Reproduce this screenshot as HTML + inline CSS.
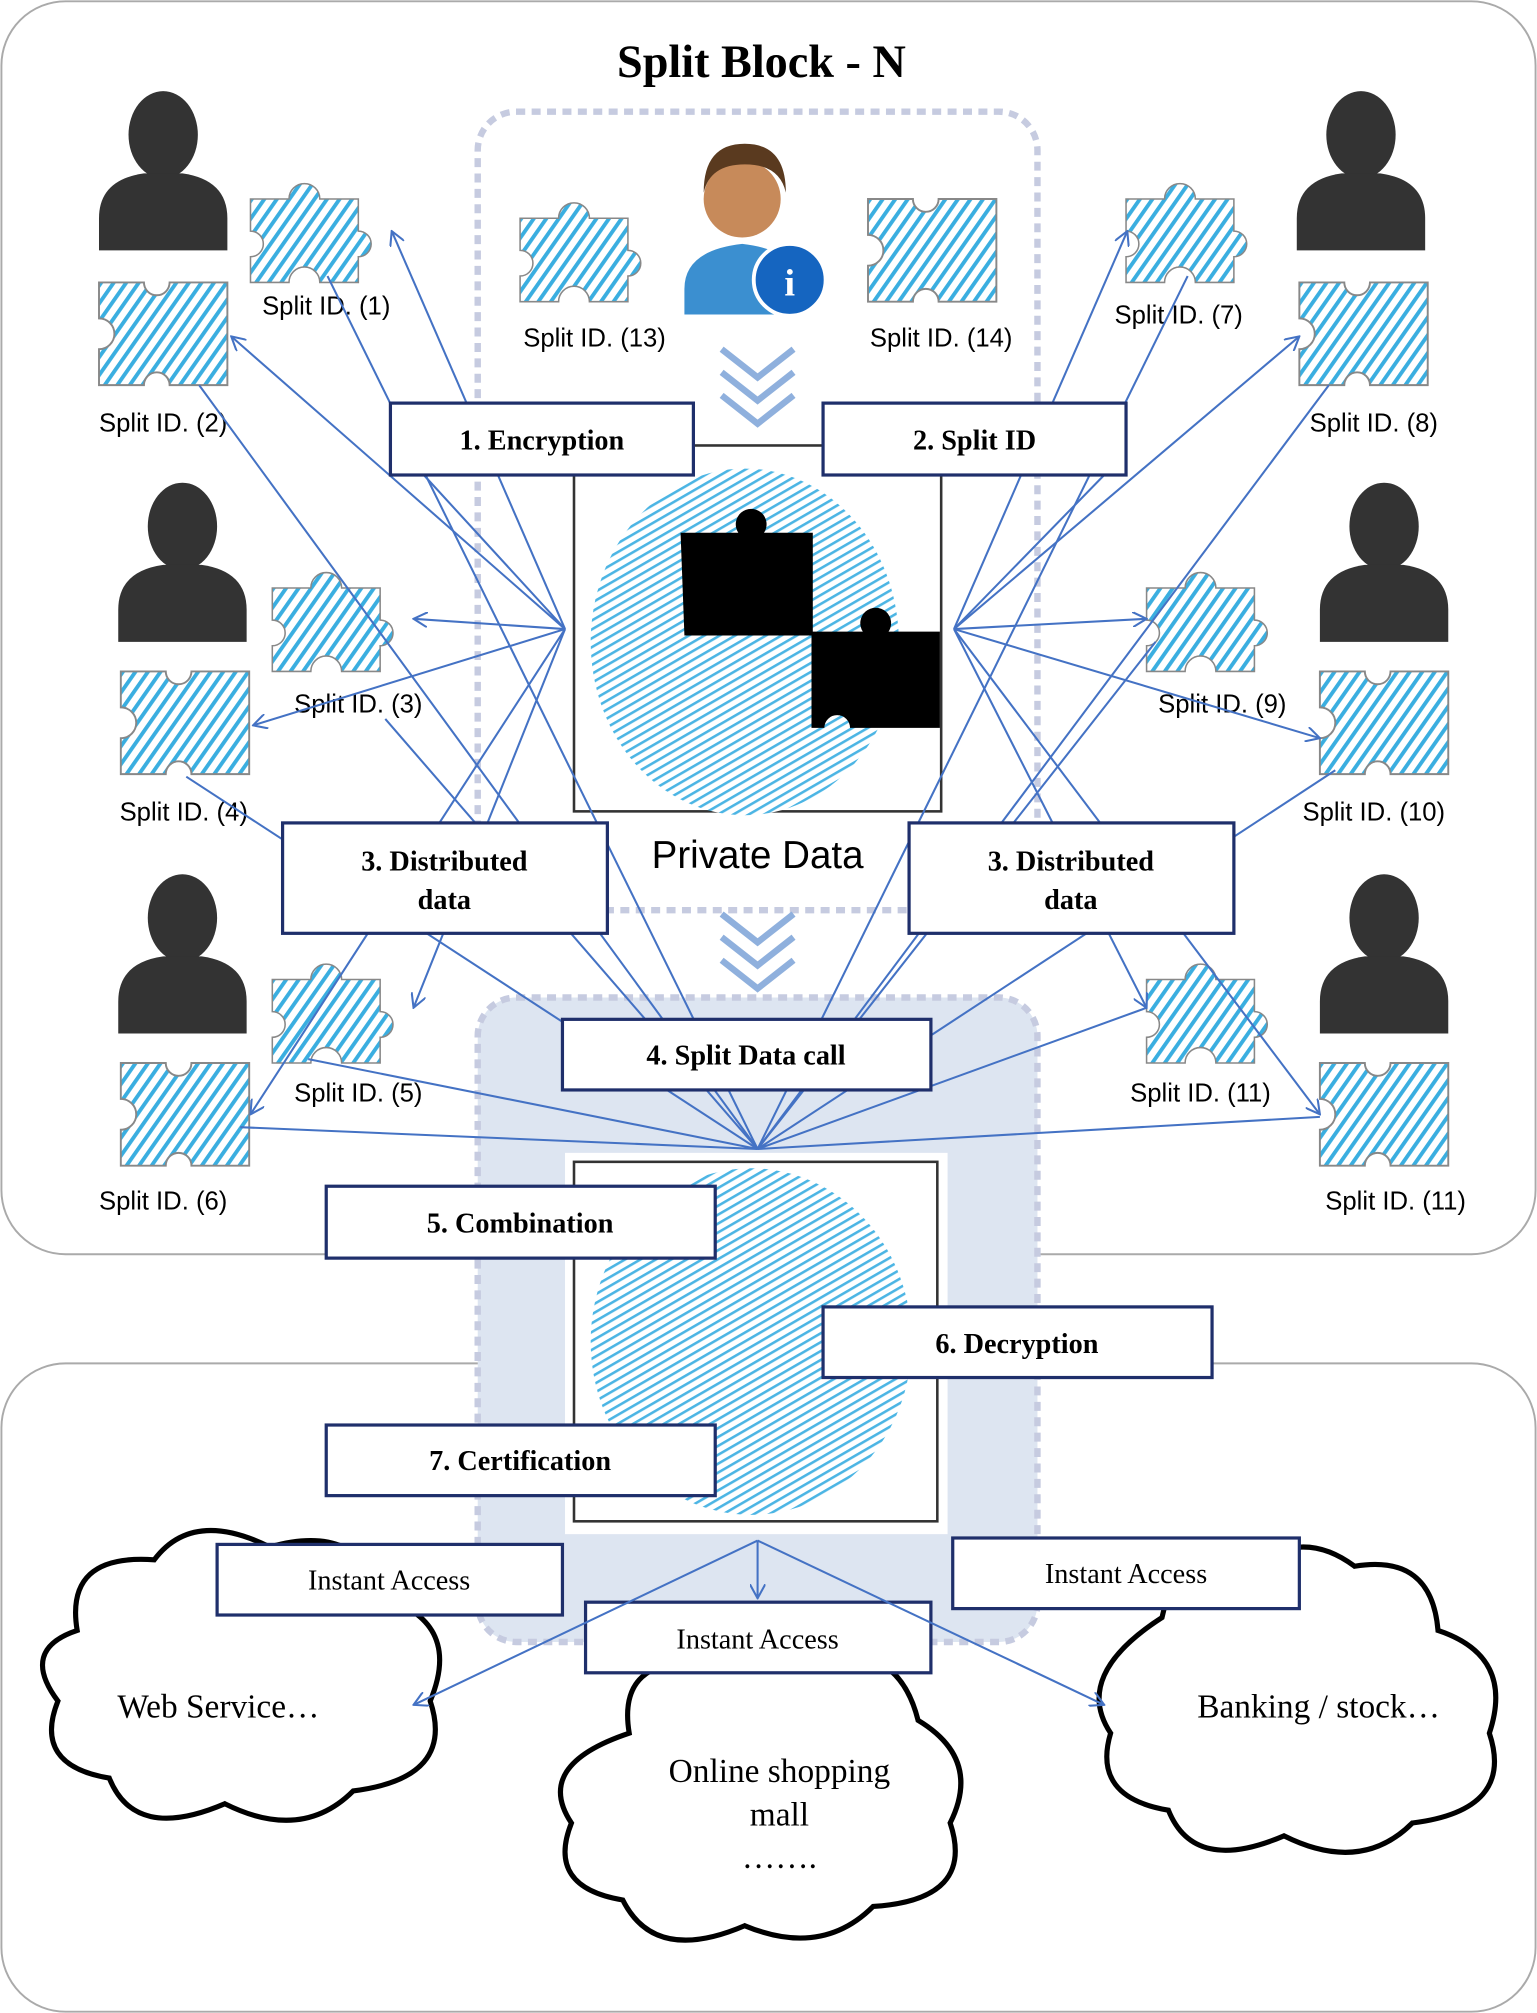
<!DOCTYPE html>
<html><head><meta charset="utf-8"><style>
html,body{margin:0;padding:0;background:#fff}
svg{display:block}
.lb{font-family:"Liberation Serif",serif;font-weight:bold;font-size:22px;fill:#000}
.ia{font-family:"Liberation Serif",serif;font-size:22px;fill:#000}
.sid{font-family:"Liberation Sans","DejaVu Sans",sans-serif;font-size:20px;fill:#000}
.box{fill:#fff;stroke:#1f2f6b;stroke-width:2.5}
.ln{stroke:#4472c4;stroke-width:1.6;fill:none}
</style></head><body>
<svg width="1537" height="2013" viewBox="0 0 1197 1568" xmlns="http://www.w3.org/2000/svg">
<defs>
<pattern id="fp" width="8" height="8" patternUnits="userSpaceOnUse" patternTransform="rotate(35)">
<rect width="8" height="8" fill="#fff"/><rect width="3" height="8" fill="#3aaee0"/></pattern>
<pattern id="fp2" width="6" height="6" patternUnits="userSpaceOnUse" patternTransform="rotate(60)">
<rect width="6" height="6" fill="#fff"/><rect width="2" height="6" fill="#4cb5e4"/></pattern>
<marker id="ar" markerWidth="12" markerHeight="12" refX="11" refY="6" orient="auto" markerUnits="userSpaceOnUse">
<path d="M0,0 L11,6 L0,12" fill="none" stroke="#4472c4" stroke-width="1.6"/></marker>
<g id="pz1"><path d="M0,15 h30 a12,12 0 1 1 24,0 h30 v25 a10,10 0 1 1 0,20 v20 h-30 a12,12 0 1 0 -24,0 h-30 v-20 a10,10 0 1 0 0,-20 z" fill="url(#fp)" stroke="#888" stroke-width="1.2"/></g>
<g id="pz2"><path d="M0,0 h35 a10,10 0 1 0 20,0 h45 v80 h-45 a10,10 0 1 0 -20,0 h-35 v-28 a12,12 0 1 0 0,-24 z" fill="url(#fp)" stroke="#888" stroke-width="1.5"/></g>
<g id="per"><ellipse cx="0" cy="-35" rx="27" ry="34" fill="#333"/><path d="M-50,55 v-25 q0,-30 35,-35 h30 q35,5 35,35 v25 z" fill="#333"/></g>
</defs>
<rect x="1" y="1" width="1195" height="976" rx="50" fill="#fff" stroke="#aaa" stroke-width="1.5"/>
<rect x="1" y="1062" width="1195" height="505" rx="50" fill="#fff" stroke="#aaa" stroke-width="1.5"/>
<text x="593" y="60" text-anchor="middle" font-family="Liberation Serif,serif" font-weight="bold" font-size="36">Split Block - N</text>
<rect x="372" y="87" width="436" height="622" rx="30" fill="none" stroke="#c6cbe0" stroke-width="5" stroke-dasharray="7,5"/>
<rect x="372" y="777" width="436" height="502" rx="30" fill="#dde5f1" stroke="#c6cbe0" stroke-width="5" stroke-dasharray="7,5"/>
<rect x="447" y="347" width="286" height="285" fill="#fff" stroke="#333" stroke-width="2"/>
<ellipse cx="580" cy="500" rx="120" ry="135" fill="url(#fp2)"/>
<path d="M530,415 h45 a12,12 0 1 1 20,0 h38 v80 h-100 z" fill="#000"/>
<path d="M632,492 h40 a12,12 0 1 1 20,0 h40 v75 h-70 a10,10 0 1 0 -20,0 h-10 z" fill="#000"/>
<text x="590" y="676" text-anchor="middle" font-family="Liberation Sans,sans-serif" font-size="30">Private Data</text>
<g fill="none" stroke="#8fb0dd" stroke-width="5"><path d="M562,272 l28,22 l28,-22 M562,290 l28,22 l28,-22 M562,308 l28,22 l28,-22"/>
<path d="M562,712 l28,22 l28,-22 M562,730 l28,22 l28,-22 M562,748 l28,22 l28,-22"/></g>
<rect x="440" y="898" width="298" height="297" fill="#fff"/>
<rect x="447" y="905" width="283" height="280" fill="#fff" stroke="#333" stroke-width="2"/>
<ellipse cx="585" cy="1045" rx="125" ry="135" fill="url(#fp2)"/>
<use href="#pz1" x="405" y="155"/>
<use href="#pz2" x="676" y="155"/>
<circle cx="578" cy="155" r="30" fill="#c78a5a"/><path d="M548,150 q0,-38 32,-38 q32,0 32,38 q-5,-22 -32,-22 q-27,0 -32,22z" fill="#5a3a1f"/>
<path d="M533,245 v-20 q0,-30 45,-35 q45,5 45,35 v20z" fill="#3b8fd0"/>
<circle cx="615" cy="218" r="28" fill="#1565c0" stroke="#fff" stroke-width="3"/><text x="615" y="230" text-anchor="middle" fill="#fff" font-family="Liberation Serif,serif" font-weight="bold" font-size="30">i</text>
<text x="463" y="270" text-anchor="middle" class="sid">Split ID. (13)</text>
<text x="733" y="270" text-anchor="middle" class="sid">Split ID. (14)</text>
<use href="#per" x="127" y="140"/><use href="#per" x="1060" y="140"/>
<use href="#per" x="142" y="445"/><use href="#per" x="1078" y="445"/>
<use href="#per" x="142" y="750"/><use href="#per" x="1078" y="750"/>
<use href="#pz1" x="195" y="140"/><use href="#pz2" x="77" y="220"/>
<use href="#pz1" x="212" y="443"/><use href="#pz2" x="94" y="523"/>
<use href="#pz1" x="212" y="748"/><use href="#pz2" x="94" y="828"/>
<use href="#pz1" x="877" y="140"/><use href="#pz2" x="1012" y="220"/>
<use href="#pz1" x="893" y="443"/><use href="#pz2" x="1028" y="523"/>
<use href="#pz1" x="893" y="748"/><use href="#pz2" x="1028" y="828"/>
<text x="254" y="245" text-anchor="middle" class="sid">Split ID. (1)</text>
<text x="127" y="336" text-anchor="middle" class="sid">Split ID. (2)</text>
<text x="279" y="555" text-anchor="middle" class="sid">Split ID. (3)</text>
<text x="143" y="639" text-anchor="middle" class="sid">Split ID. (4)</text>
<text x="279" y="858" text-anchor="middle" class="sid">Split ID. (5)</text>
<text x="127" y="942" text-anchor="middle" class="sid">Split ID. (6)</text>
<text x="918" y="252" text-anchor="middle" class="sid">Split ID. (7)</text>
<text x="1070" y="336" text-anchor="middle" class="sid">Split ID. (8)</text>
<text x="952" y="555" text-anchor="middle" class="sid">Split ID. (9)</text>
<text x="1070" y="639" text-anchor="middle" class="sid">Split ID. (10)</text>
<text x="935" y="858" text-anchor="middle" class="sid">Split ID. (11)</text>
<text x="1087" y="942" text-anchor="middle" class="sid">Split ID. (11)</text>
<g class="ln" marker-end="url(#ar)">
<path d="M440,490 L305,180"/><path d="M440,490 L180,262"/><path d="M440,490 L322,482"/>
<path d="M440,490 L197,565"/><path d="M440,490 L322,785"/><path d="M440,490 L195,868"/>
<path d="M743,490 L878,180"/><path d="M743,490 L1012,262"/><path d="M743,490 L893,482"/>
<path d="M743,490 L1028,575"/><path d="M743,490 L893,785"/><path d="M743,490 L1028,868"/>
</g>
<g class="ln">
<path d="M255,215 L590,895"/><path d="M155,300 L590,895"/><path d="M300,560 L590,895"/><path d="M145,605 L590,895"/>
<path d="M240,825 L590,895"/><path d="M187,878 L590,895"/>
<path d="M925,215 L590,895"/><path d="M1035,300 L590,895"/><path d="M900,500 L590,895"/><path d="M1040,600 L590,895"/>
<path d="M893,785 L590,895"/><path d="M1028,870 L590,895"/>
<path d="M330,370 L440,490"/><path d="M860,370 L743,490"/>
</g>
<rect class="box" x="304" y="314" width="236" height="56"/><text class="lb" x="422" y="350" text-anchor="middle">1. Encryption</text>
<rect class="box" x="641" y="314" width="236" height="56"/><text class="lb" x="759" y="350" text-anchor="middle">2. Split ID</text>
<rect class="box" x="220" y="641" width="253" height="86"/><text class="lb" x="346" y="678" text-anchor="middle">3. Distributed</text><text class="lb" x="346" y="708" text-anchor="middle">data</text>
<rect class="box" x="708" y="641" width="253" height="86"/><text class="lb" x="834" y="678" text-anchor="middle">3. Distributed</text><text class="lb" x="834" y="708" text-anchor="middle">data</text>
<rect class="box" x="438" y="794" width="287" height="55"/><text class="lb" x="581" y="829" text-anchor="middle">4. Split Data call</text>
<rect class="box" x="254" y="924" width="303" height="56"/><text class="lb" x="405" y="960" text-anchor="middle">5. Combination</text>
<rect class="box" x="641" y="1018" width="303" height="55"/><text class="lb" x="792" y="1054" text-anchor="middle">6. Decryption</text>
<rect class="box" x="254" y="1110" width="303" height="55"/><text class="lb" x="405" y="1145" text-anchor="middle">7. Certification</text>
<g fill="#fff" stroke="#000" stroke-width="4">
<path d="M60,1270 q-10,-60 60,-55 q30,-40 90,-10 q70,-20 90,40 q60,20 35,80 q20,60 -60,70 q-40,40 -100,10 q-70,30 -90,-20 q-60,-10 -40,-60 q-30,-40 15,-55z"/>
<path d="M490,1350 q-10,-60 60,-55 q40,-30 90,-5 q60,-10 75,50 q50,30 25,80 q20,60 -60,65 q-40,40 -100,15 q-70,30 -95,-20 q-60,-10 -40,-60 q-30,-45 45,-70z"/>
<path d="M905,1260 q10,-50 70,-40 q40,-30 80,0 q60,-10 65,50 q60,20 40,80 q20,60 -60,70 q-40,40 -100,10 q-70,30 -90,-20 q-60,-10 -45,-60 q-30,-45 40,-90z"/>
</g>
<text class="ia" x="170" y="1338" text-anchor="middle" style="font-size:26px">Web Service…</text>
<text class="ia" x="607" y="1388" text-anchor="middle" style="font-size:26px">Online shopping</text>
<text class="ia" x="607" y="1422" text-anchor="middle" style="font-size:26px">mall</text>
<text class="ia" x="607" y="1455" text-anchor="middle" style="font-size:26px">…….</text>
<text class="ia" x="1027" y="1338" text-anchor="middle" style="font-size:26px">Banking / stock…</text>
<rect class="box" x="169" y="1203" width="269" height="55"/><text class="ia" x="303" y="1238" text-anchor="middle">Instant Access</text>
<rect class="box" x="742" y="1198" width="270" height="55"/><text class="ia" x="877" y="1233" text-anchor="middle">Instant Access</text>
<rect class="box" x="456" y="1248" width="269" height="55"/><text class="ia" x="590" y="1284" text-anchor="middle">Instant Access</text>
<g class="ln" marker-end="url(#ar)">
<path d="M590,1200 L322,1328"/><path d="M590,1200 L590,1245"/><path d="M590,1200 L860,1328"/>
</g>
</svg>
</body></html>
